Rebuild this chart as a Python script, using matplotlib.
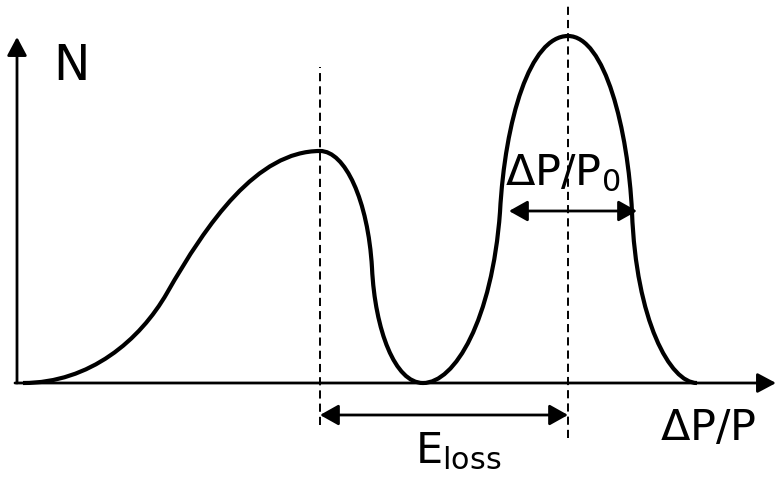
import matplotlib
matplotlib.use("Agg")
import matplotlib.pyplot as plt
from matplotlib.path import Path
from matplotlib.patches import PathPatch, FancyArrowPatch

# schematic spectrum N(dP/P), drawn as cubic Bezier pieces: (ctrl1, ctrl2, end)
curve_start = (6, 0)
curve_pieces = [
    ((73, 0), (123, 43), (150, 90)),
    ((190, 160), (240, 232), (303, 232)),    # energy-loss bump top
    ((328, 232), (351, 183), (355, 115)),
    ((358, 53), (378, 0), (406, 0)),
    ((438, 0), (475, 63), (483, 171)),
    ((488, 263), (513, 347), (551, 347)),    # main peak
    ((588, 347), (611, 253), (615, 171)),
    ((619, 63), (653, 0), (680, 0)),
]

loss_peak_x = 303
main_peak_x = 551
half_width_y = 172
fwhm_left, fwhm_right = 492, 620
eloss_arrow_y = -32

x_axis_end = 759
y_axis_end = 346


def arrow(ax, a, b, style, lw=1.8):
    ax.add_patch(FancyArrowPatch(a, b, arrowstyle=style, mutation_scale=15,
                                 lw=lw, color="black", shrinkA=0, shrinkB=0))


fig = plt.figure(figsize=(7.77, 4.78), dpi=100)
ax = fig.add_axes([0, 0, 1, 1])
ax.set_xlim(-17, 760)
ax.set_ylim(-95, 383)
ax.axis("off")

# axes with arrows
arrow(ax, (-2, 0), (x_axis_end, 0), "-|>,head_length=0.75,head_width=0.4", lw=2.0)
arrow(ax, (0, 0), (0, y_axis_end), "-|>,head_length=0.75,head_width=0.4", lw=2.0)

# curve
verts = [curve_start]
codes = [Path.MOVETO]
for c1, c2, end in curve_pieces:
    verts += [c1, c2, end]
    codes += [Path.CURVE4] * 3
ax.add_patch(PathPatch(Path(verts, codes), facecolor="none", edgecolor="black",
                       lw=3.0, capstyle="butt"))

# dashed guides
dash = (0, (4.2, 2.6))
ax.plot([loss_peak_x, loss_peak_x], [-42, 316], color="black", lw=1.4, linestyle=dash)
ax.plot([main_peak_x, main_peak_x], [-55, 378], color="black", lw=1.4, linestyle=dash)

# dimension arrows
dim = "<|-|>,head_length=0.75,head_width=0.42"
arrow(ax, (loss_peak_x, eloss_arrow_y), (main_peak_x, eloss_arrow_y), dim, lw=2.0)
arrow(ax, (fwhm_left, half_width_y), (fwhm_right, half_width_y), dim, lw=2.0)

# labels
ax.text(36, 303, "N", fontsize=35, ha="left", va="baseline")
ax.text(488, 198, r"$\mathregular{\Delta P/P_0}$", fontsize=31, ha="left", va="baseline")
ax.text(643, -57, r"$\mathregular{\Delta P/P}$", fontsize=31, ha="left", va="baseline")
ax.text(398, -80, r"$\mathregular{E_{loss}}$", fontsize=31, ha="left", va="baseline")

fig.savefig("out.png", dpi=100)
